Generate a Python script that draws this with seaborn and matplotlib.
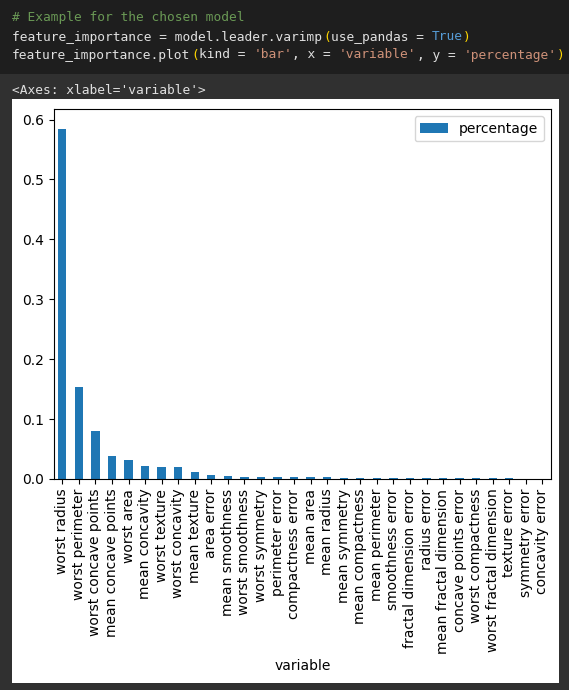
import matplotlib
matplotlib.use("Agg")
import matplotlib.pyplot as plt
from matplotlib.patches import Rectangle
import seaborn as sns
import pandas as pd

# feature importance values
variables = [
    'worst radius', 'worst perimeter', 'worst concave points', 'mean concave points',
    'worst area', 'mean concavity', 'worst texture', 'worst concavity', 'mean texture',
    'area error', 'mean smoothness', 'worst smoothness', 'worst symmetry',
    'perimeter error', 'compactness error', 'mean area', 'mean radius',
    'mean symmetry', 'mean compactness', 'mean perimeter', 'smoothness error',
    'fractal dimension error', 'radius error', 'mean fractal dimension',
    'concave points error', 'worst compactness', 'worst fractal dimension',
    'texture error', 'symmetry error', 'concavity error',
]
percentage = [
    0.585, 0.154, 0.080, 0.038, 0.032, 0.022, 0.020, 0.020, 0.012,
    0.007, 0.0055, 0.004, 0.004, 0.004, 0.0038, 0.0037, 0.0036,
    0.0021, 0.0020, 0.0019, 0.0019, 0.0018, 0.0017, 0.0016,
    0.0015, 0.0014, 0.0013, 0.0012, 0.0002, 0.0001,
]

# notebook cell text
code_lines = [
    [("# Example for the chosen model", "#6a9955")],
    [("feature_importance = model.leader.varimp", "#e0e0e0"), ("(", "#ffd700"),
     ("use_pandas = ", "#e0e0e0"), ("True", "#569cd6"), (")", "#ffd700")],
    [("feature_importance.plot", "#e0e0e0"), ("(", "#ffd700"), ("kind = ", "#e0e0e0"),
     ("'bar'", "#ce9178"), (", x = ", "#e0e0e0"), ("'variable'", "#ce9178"),
     (", y = ", "#e0e0e0"), ("'percentage'", "#ce9178"), (")", "#ffd700")],
]
output_text = "<Axes: xlabel='variable'>"

df = pd.DataFrame({'variable': variables, 'percentage': percentage})

W, H = 569, 690
fig = plt.figure(figsize=(W / 100, H / 100), dpi=100)
fig.patch.set_facecolor('#303030')

# code cell background and white figure panel
fig.patches.append(Rectangle((0, 1 - 74 / H), 1, 74 / H, transform=fig.transFigure,
                             facecolor='#1e1e1e', edgecolor='none', zorder=-2))
fig.patches.append(Rectangle((12 / W, 1 - 683 / H), 547 / W, 584 / H, transform=fig.transFigure,
                             facecolor='white', edgecolor='none', zorder=-2))

char_w = 7.78
code_fs = 9.3
line_y = [17, 37, 55]
for line, y in zip(code_lines, line_y):
    col = 0
    for txt, color in line:
        fig.text((12 + col * char_w) / W, 1 - y / H, txt, color=color,
                 family='DejaVu Sans Mono', fontsize=code_fs, va='center', ha='left')
        col += len(txt)
fig.text(12 / W, 1 - 91 / H, output_text, color='#e0e0e0',
         family='DejaVu Sans Mono', fontsize=code_fs, va='center', ha='left')

ax = fig.add_axes([54 / W, 1 - 479 / H, 496.7 / W, 369.7 / H])
ax.set_zorder(1)
sns.barplot(data=df, x='variable', y='percentage', color='#1f77b4', width=0.5,
            saturation=1, label='percentage', ax=ax)
ax.set_xlim(-0.5, len(variables) - 0.5)
ax.set_ylim(0, max(percentage) * 1.055)
ax.set_ylabel('')
ax.set_xlabel('variable', fontsize=10)
ax.tick_params(axis='x', labelrotation=90, labelsize=10)
ax.tick_params(axis='y', labelsize=10)
ax.legend(loc='upper right', fontsize=10)

fig.savefig('out.png', dpi=100, facecolor=fig.get_facecolor())
